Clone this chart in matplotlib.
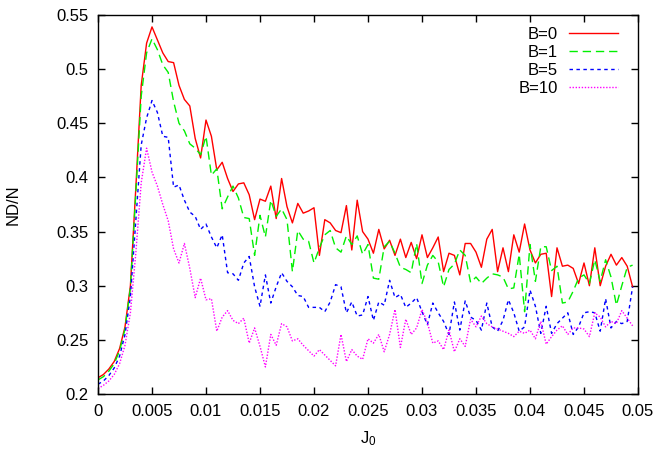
import numpy as np
import matplotlib
matplotlib.use("Agg")
import matplotlib.pyplot as plt

plt.rcParams['font.family'] = ['Liberation Sans', 'DejaVu Sans']
plt.rcParams['mathtext.fontset'] = 'custom'
plt.rcParams['mathtext.rm'] = 'Liberation Sans'
plt.rcParams['mathtext.it'] = 'Liberation Sans'

j0 = [i * 0.0005 for i in range(100)]

b0 = [0.215, 0.218, 0.223, 0.230, 0.242, 0.262, 0.300, 0.390, 0.485, 0.524,
      0.539, 0.527, 0.515, 0.507, 0.506, 0.485, 0.472, 0.466, 0.436, 0.418,
      0.453, 0.438, 0.407, 0.414, 0.399, 0.387, 0.394, 0.395, 0.384, 0.361,
      0.380, 0.378, 0.392, 0.362, 0.399, 0.373, 0.358, 0.376, 0.367, 0.369,
      0.372, 0.328, 0.361, 0.358, 0.351, 0.349, 0.374, 0.333, 0.379, 0.350,
      0.343, 0.330, 0.352, 0.334, 0.342, 0.328, 0.343, 0.326, 0.340, 0.325,
      0.347, 0.326, 0.335, 0.345, 0.313, 0.330, 0.328, 0.310, 0.339, 0.339,
      0.331, 0.317, 0.343, 0.352, 0.313, 0.335, 0.313, 0.347, 0.331, 0.357,
      0.333, 0.321, 0.329, 0.330, 0.290, 0.335, 0.318, 0.319, 0.316, 0.302,
      0.321, 0.300, 0.335, 0.300, 0.318, 0.329, 0.319, 0.326, 0.318, 0.299]

b1 = [0.213, 0.216, 0.221, 0.228, 0.240, 0.260, 0.298, 0.385, 0.475, 0.515,
      0.528, 0.518, 0.504, 0.497, 0.470, 0.450, 0.443, 0.431, 0.427, 0.421,
      0.438, 0.402, 0.408, 0.371, 0.382, 0.392, 0.381, 0.363, 0.362, 0.328,
      0.365, 0.345, 0.379, 0.364, 0.371, 0.361, 0.313, 0.351, 0.343, 0.341,
      0.321, 0.335, 0.347, 0.351, 0.335, 0.331, 0.346, 0.338, 0.346, 0.329,
      0.338, 0.307, 0.306, 0.336, 0.341, 0.330, 0.317, 0.315, 0.312, 0.339,
      0.302, 0.319, 0.328, 0.322, 0.299, 0.315, 0.320, 0.333, 0.328, 0.303,
      0.308, 0.302, 0.307, 0.311, 0.310, 0.308, 0.297, 0.298, 0.329, 0.276,
      0.338, 0.304, 0.336, 0.336, 0.314, 0.318, 0.284, 0.285, 0.295, 0.307,
      0.310, 0.302, 0.324, 0.304, 0.324, 0.308, 0.282, 0.300, 0.317, 0.319]

b5 = [0.209, 0.212, 0.217, 0.224, 0.235, 0.255, 0.290, 0.360, 0.430, 0.455,
      0.471, 0.460, 0.438, 0.437, 0.391, 0.393, 0.379, 0.368, 0.364, 0.352,
      0.357, 0.345, 0.335, 0.347, 0.312, 0.311, 0.305, 0.321, 0.327, 0.299,
      0.281, 0.310, 0.284, 0.299, 0.312, 0.304, 0.299, 0.291, 0.290, 0.280,
      0.280, 0.280, 0.276, 0.285, 0.301, 0.299, 0.275, 0.285, 0.272, 0.273,
      0.290, 0.268, 0.285, 0.282, 0.305, 0.289, 0.292, 0.280, 0.284, 0.289,
      0.276, 0.264, 0.284, 0.275, 0.267, 0.255, 0.285, 0.259, 0.286, 0.271,
      0.268, 0.259, 0.284, 0.262, 0.258, 0.268, 0.287, 0.275, 0.258, 0.262,
      0.296, 0.281, 0.256, 0.281, 0.256, 0.265, 0.270, 0.275, 0.255, 0.262,
      0.275, 0.276, 0.275, 0.258, 0.288, 0.261, 0.267, 0.265, 0.267, 0.299]

b10 = [0.205, 0.208, 0.212, 0.218, 0.228, 0.245, 0.275, 0.330, 0.395, 0.427,
       0.405, 0.392, 0.375, 0.360, 0.334, 0.321, 0.339, 0.316, 0.289, 0.307,
       0.287, 0.288, 0.258, 0.271, 0.277, 0.268, 0.265, 0.270, 0.247, 0.261,
       0.244, 0.225, 0.255, 0.245, 0.265, 0.262, 0.249, 0.251, 0.245, 0.240,
       0.235, 0.241, 0.236, 0.231, 0.226, 0.255, 0.230, 0.241, 0.235, 0.232,
       0.251, 0.247, 0.255, 0.239, 0.255, 0.278, 0.243, 0.269, 0.255, 0.261,
       0.278, 0.266, 0.247, 0.249, 0.241, 0.259, 0.239, 0.251, 0.244, 0.269,
       0.262, 0.272, 0.265, 0.262, 0.260, 0.258, 0.256, 0.253, 0.258, 0.256,
       0.259, 0.251, 0.267, 0.246, 0.253, 0.259, 0.263, 0.255, 0.261, 0.261,
       0.260, 0.253, 0.275, 0.271, 0.262, 0.267, 0.265, 0.277, 0.270, 0.263]

labels = ["B=0", "B=1", "B=5", "B=10"]
colors = ["#ff0000", "#00f000", "#0000ff", "#ff00ff"]
styles = ["-", (0, (6, 3.5)), (0, (2.5, 2.5)), (0, (1, 1.2))]

xticks = [0, 0.005, 0.01, 0.015, 0.02, 0.025, 0.03, 0.035, 0.04, 0.045, 0.05]
xticklabels = ["0", "0.005", "0.01", "0.015", "0.02", "0.025", "0.03", "0.035", "0.04", "0.045", "0.05"]
yticks = [0.2, 0.25, 0.3, 0.35, 0.4, 0.45, 0.5, 0.55]
yticklabels = ["0.2", "0.25", "0.3", "0.35", "0.4", "0.45", "0.5", "0.55"]

fig = plt.figure(figsize=(6.59, 4.5), dpi=100)
ax = fig.add_axes([98/659, 56/450, 540/659, 379/450])

for ys, lab, c, ls in zip([b0, b1, b5, b10], labels, colors, styles):
    ax.plot(j0, ys, color=c, linestyle=ls, linewidth=1.0, label=lab)

ax.set_xlim(0, 0.05)
ax.set_ylim(0.2, 0.55)
ax.set_xticks(xticks)
ax.set_xticklabels(xticklabels)
ax.set_yticks(yticks)
ax.set_yticklabels(yticklabels)
ax.tick_params(direction='in', top=True, right=True, length=5, width=1, labelsize=12, pad=7)
for s in ax.spines.values():
    s.set_linewidth(1.0)

ax.set_xlabel("J$_\\mathregular{0}$", fontsize=12)
ax.xaxis.set_label_coords(0.5, -0.093)
ax.set_ylabel("ND/N", fontsize=12)
ax.yaxis.set_label_coords(-0.143, 0.5)

leg = ax.legend(loc='upper right', bbox_to_anchor=(0.963, 0.968), frameon=False,
                markerfirst=False, fontsize=12, handlelength=2.94, handletextpad=0.66,
                labelspacing=0.18, borderaxespad=0.0, borderpad=0.0)

fig.savefig("out.png", dpi=100)
